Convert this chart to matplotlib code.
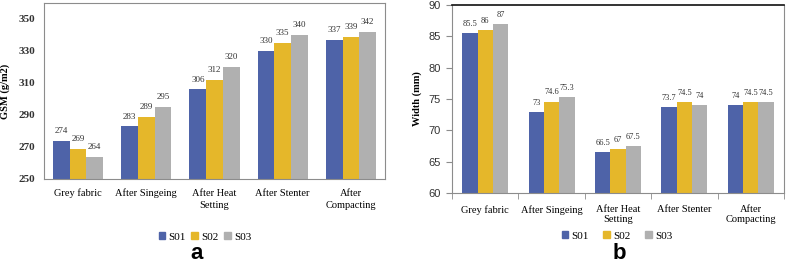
import numpy as np
import matplotlib
matplotlib.use("Agg")
import matplotlib.pyplot as plt
from matplotlib.patches import Patch
from matplotlib.font_manager import FontProperties

categories = ["Grey fabric", "After Singeing", "After Heat\nSetting", "After Stenter", "After\nCompacting"]
series = ["S01", "S02", "S03"]
colors = ["#4e63a8", "#e5b72a", "#b0b0b0"]

gsm_s01 = [274, 283, 306, 330, 337]
gsm_s02 = [269, 289, 312, 335, 339]
gsm_s03 = [264, 295, 320, 340, 342]

width_s01 = [85.5, 73, 66.5, 73.7, 74]
width_s02 = [86, 74.6, 67, 74.5, 74.5]
width_s03 = [87, 75.3, 67.5, 74, 74.5]

serif = "Liberation Serif"
grey = "#8c8c8c"

fig = plt.figure(figsize=(7.89, 2.64), dpi=100)

# ---- panel a
ax1 = fig.add_axes([44 / 789, 1 - 179 / 264, 341 / 789, 176 / 264])
x = np.arange(len(categories))
bw = 0.245
for i, vals in enumerate([gsm_s01, gsm_s02, gsm_s03]):
    bars = ax1.bar(x + (i - 1) * bw, np.array(vals) - 250, bw, bottom=250, color=colors[i])
    for b, v in zip(bars, vals):
        ax1.text(b.get_x() + b.get_width() / 2, v + 3.5, str(v), ha="center", va="bottom",
                 fontsize=6.5, family=serif, color="#333333")
ax1.set_xlim(-0.5, 4.5)
ax1.set_ylim(250, 360)
ax1.set_yticks(range(250, 351, 20))
ax1.set_xticks(x)
ax1.set_xticklabels(categories, family=serif, fontsize=7.5, linespacing=1.4)
ax1.tick_params(axis="y", length=0, pad=6.5)
ax1.tick_params(axis="x", length=0, pad=7)
for lab in ax1.get_yticklabels():
    lab.set_family(serif)
    lab.set_fontsize(8)
    lab.set_fontweight("bold")
    lab.set_color("#333333")
for s in ax1.spines.values():
    s.set_color(grey)
    s.set_linewidth(0.8)
ax1.set_ylabel("GSM (g/m2)", family=serif, fontsize=7.5, fontweight="bold")
ax1.yaxis.set_label_coords(-0.1, 0.5)

# ---- panel b
ax2 = fig.add_axes([452 / 789, 1 - 193 / 264, 332 / 789, 188 / 264])
bw2 = 0.23
for i, vals in enumerate([width_s01, width_s02, width_s03]):
    bars = ax2.bar(x + (i - 1) * bw2, np.array(vals) - 60, bw2, bottom=60, color=colors[i])
    for b, v in zip(bars, vals):
        ax2.text(b.get_x() + b.get_width() / 2, v + 0.8, f"{v:g}", ha="center", va="bottom",
                 fontsize=6, family=serif, color="#333333")
ax2.set_xlim(-0.5, 4.5)
ax2.set_ylim(60, 90)
ax2.set_yticks(range(60, 91, 5))
ax2.set_xticks(x)
ax2.set_xticklabels(categories, family=serif, fontsize=7.5, linespacing=1.1)
ax2.set_xticks(np.arange(-0.5, 4.6, 1), minor=True)
ax2.tick_params(axis="x", which="major", length=0, pad=9)
ax2.tick_params(axis="x", which="minor", length=4, color=grey)
ax2.tick_params(axis="y", length=4, color=grey, pad=4)
for lab in ax2.get_yticklabels():
    lab.set_family("Liberation Sans")
    lab.set_fontsize(8)
    lab.set_color("#333333")
for name, s in ax2.spines.items():
    s.set_color(grey)
    s.set_linewidth(0.8)
ax2.spines["top"].set_color("#111111")
ax2.spines["top"].set_linewidth(1.2)
ax2.set_ylabel("Width (mm)", family=serif, fontsize=7.5, fontweight="bold")
ax2.yaxis.set_label_coords(-0.09, 0.5)

# legends
handles = [Patch(color=c, label=s) for c, s in zip(colors, series)]
legend_font = FontProperties(family=serif, size=8)
fig.legend(handles=handles, loc="center", bbox_to_anchor=(205 / 789, 1 - 237 / 264), ncol=3,
           frameon=False, handlelength=0.6, handleheight=0.6, handletextpad=0.3,
           columnspacing=0.5, prop=legend_font)
fig.legend(handles=handles, loc="center", bbox_to_anchor=(617 / 789, 1 - 236 / 264), ncol=3,
           frameon=False, handlelength=0.6, handleheight=0.6, handletextpad=0.3,
           columnspacing=1.3, prop=legend_font)

fig.text(197 / 789, 1 - 259 / 264, "a", ha="center", va="baseline", fontsize=16,
         fontweight="bold", family="Liberation Sans")
fig.text(619 / 789, 1 - 259 / 264, "b", ha="center", va="baseline", fontsize=16,
         fontweight="bold", family="Liberation Sans")

fig.savefig("out.png", dpi=100)
